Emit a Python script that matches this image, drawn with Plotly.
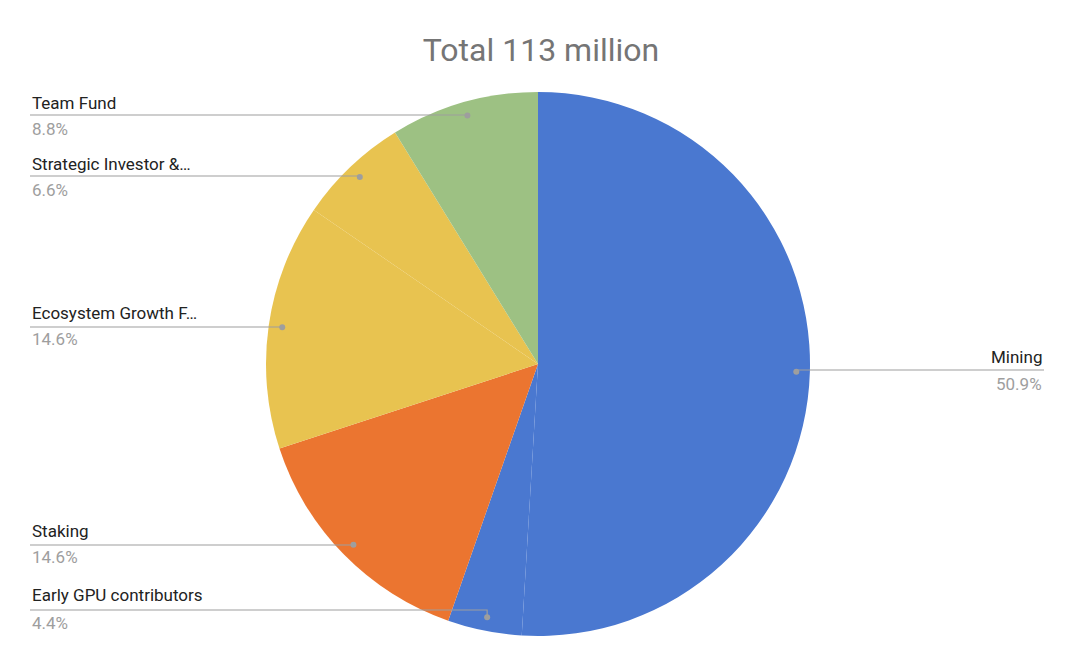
import math
import plotly.graph_objects as go

labels = ["Mining", "Early GPU contributors", "Staking", "Ecosystem Growth Fund", "Strategic Investor & Advisor", "Team Fund"]
short_labels = ["Mining", "Early GPU contributors", "Staking", "Ecosystem Growth F…", "Strategic Investor &…", "Team Fund"]
values = [50.9, 4.4, 14.6, 14.6, 6.6, 8.8]
colors = ["#4a78d0", "#4a78d0", "#eb7530", "#e8c350", "#e8c350", "#9dc183"]

W, H = 1066, 648
cx, cy, R = 530, 356, 272

fig = go.Figure(go.Pie(
    labels=labels, values=values, sort=False, direction="clockwise", rotation=0,
    marker=dict(colors=colors, line=dict(width=0)), textinfo="none", hoverinfo="label+percent",
    domain=dict(x=[(cx - R) / W, (cx + R) / W], y=[(H - cy - R) / H, (H - cy + R) / H]),
))

# label placement (pixels): (text x, name y, pct y, line y, side)
place = {
    "Mining": (1036, 349, 376, 362, "right"),
    "Early GPU contributors": (22, 587, 615, 602, "left"),
    "Staking": (22, 523, 549, 537, "left"),
    "Ecosystem Growth Fund": (22, 305, 331, 319, "left"),
    "Strategic Investor & Advisor": (22, 156, 182, 168, "left"),
    "Team Fund": (22, 95, 121, 107, "left"),
}

px = lambda x: x / W
py = lambda y: 1 - y / H
total = sum(values)
cum = 0
shapes, anns = [], []
for lab, short, v in zip(labels, short_labels, values):
    mid = (cum + v / 2) / total * 2 * math.pi
    cum += v
    dx = cx + 0.95 * R * math.sin(mid)
    dy = cy - 0.95 * R * math.cos(mid)
    tx, ny, pyy, ly, side = place[lab]
    shapes.append(dict(type="path", xref="paper", yref="paper",
                       path=f"M {px(tx)} {py(ly)} L {px(dx)} {py(ly)} L {px(dx)} {py(dy)}",
                       line=dict(color="#9e9e9e", width=1.2)))
    shapes.append(dict(type="circle", xref="paper", yref="paper",
                       x0=px(dx - 3), x1=px(dx + 3), y0=py(dy + 3), y1=py(dy - 3),
                       fillcolor="#9e9e9e", line=dict(width=0)))
    anc = "left" if side == "left" else "right"
    anns.append(dict(x=px(tx), y=py(ny), xref="paper", yref="paper", text=short, showarrow=False,
                     xanchor=anc, yanchor="middle", font=dict(size=17, color="#222222")))
    anns.append(dict(x=px(tx), y=py(pyy), xref="paper", yref="paper", text=f"{v}%", showarrow=False,
                     xanchor=anc, yanchor="middle", font=dict(size=17, color="#9e9e9e")))

fig.update_layout(
    width=W, height=H, margin=dict(l=0, r=0, t=0, b=0), showlegend=False,
    paper_bgcolor="white", font=dict(family="Roboto, Arial, sans-serif"),
    title=dict(text="Total 113 million", x=0.5, xanchor="center", y=1 - 42 / H, yanchor="middle",
               font=dict(size=32, color="#757575")),
    shapes=shapes, annotations=anns,
)
fig.write_html("out.html")
